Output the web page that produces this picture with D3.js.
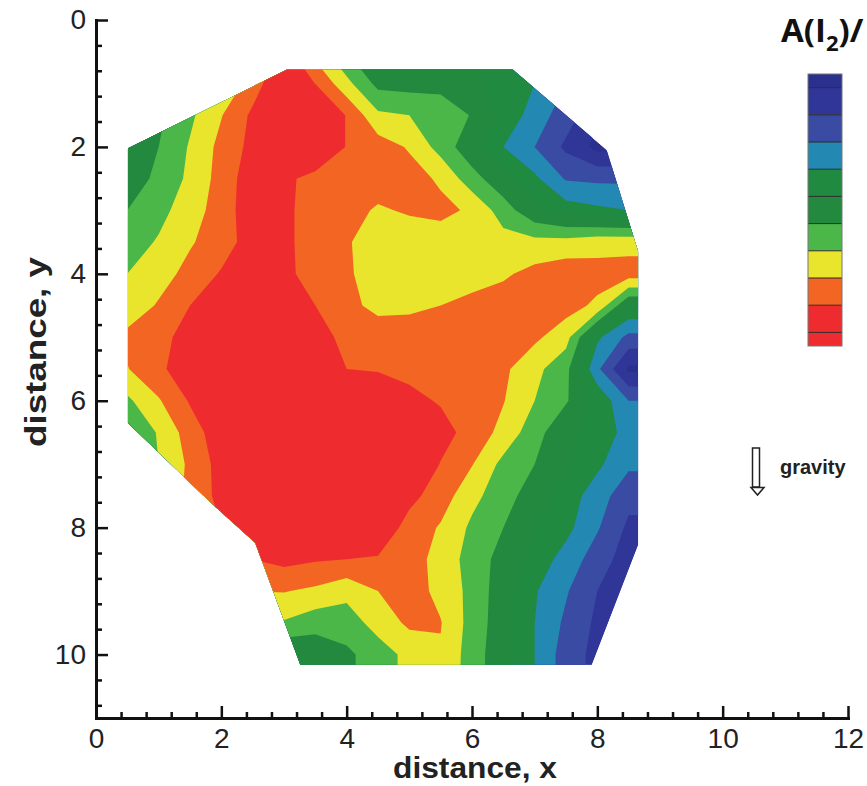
<!DOCTYPE html>
<html><head><meta charset="utf-8">
<script src="https://cdn.jsdelivr.net/npm/d3@7"></script>
<style>body{margin:0;background:#fff;} svg{display:block;}</style>
</head><body><svg id="chart" width="867" height="786"></svg>
<script>
// ---- data ----
const gridX = [0.5,1,1.5,2,2.5,3,3.5,4,4.5,5,5.5,6,6.5,7,7.5,8,8.5,9];
const gridY = [0.5,1,1.5,2,2.5,3,3.5,4,4.5,5,5.5,6,6.5,7,7.5,8,8.5,9,9.5,10,10.5];
// value on level-index scale (thresholds 1..10), one row per gridY
const zGrid = [
 [4.4,5.2,5.8,6.5,7.8,9.5,7.6,6.0,5.4,5.4,5.3,5.0,4.2,3.5,2.8,2.5,2.5,2.5],
 [4.6,5.5,6.2,7.0,8.5,10.0,8.98,7.3,5.7,5.6,5.5,5.3,4.5,4.0,3.0,2.5,2.5,2.5],
 [4.8,5.8,6.8,7.95,9.2,10.5,10.0,8.95,7.2,7.0,6.95,5.9,4.8,3.5,2.5,1.2,1.2,1.2],
 [5.0,6.0,7.1,8.3,9.3,10.5,10.0,8.95,8.5,7.9,6.6,5.3,4.0,3.0,1.8,0.7,0.7,1.0],
 [5.3,6.3,7.2,8.4,9.6,9.2,8.7,8.4,8.4,8.4,7.85,6.4,5.3,4.2,2.9,2.8,2.8,3.0],
 [6.0,6.7,7.5,8.5,9.6,9.2,8.6,8.3,7.9,8.1,8.25,7.85,6.5,5.2,4.5,4.2,4.0,4.0],
 [6.5,7.1,7.9,8.5,9.5,9.2,8.6,8.1,7.5,7.5,7.5,7.5,7.4,7.3,7.35,7.6,7.6,7.6],
 [7.0,7.6,8.3,9.1,9.8,9.3,8.5,8.15,7.5,7.5,7.6,7.7,7.85,8.3,8.6,8.4,8.5,8.5],
 [7.4,8.1,9.0,9.6,10.0,9.8,9.0,8.3,7.7,7.8,8.0,8.2,8.5,8.6,8.4,7.8,5.0,5.0],
 [8.25,8.6,9.5,10.2,10.3,10.0,9.3,8.8,8.6,8.5,8.6,8.7,8.6,8.2,7.4,4.2,2.7,2.7],
 [7.95,8.8,9.6,10.3,10.5,10.5,10.2,9.0,8.9,8.7,8.6,8.5,8.2,7.3,6.3,3.2,0.8,0.6],
 [6.8,7.9,9.1,10.0,10.5,10.6,10.5,10.2,10.0,9.3,8.9,8.1,8.05,7.0,6.1,4.8,3.0,3.0],
 [6.0,7.1,8.5,9.6,10.4,10.6,10.6,10.5,10.3,10.0,9.4,8.6,7.7,6.4,5.2,4.5,3.7,3.7],
 [5.5,7.0,8.2,9.4,10.3,10.6,10.7,10.6,10.4,10.1,8.95,8.05,6.7,6.0,5.2,4.2,3.2,3.2],
 [5.5,7.0,8.3,9.3,10.2,10.6,10.6,10.6,10.4,9.3,8.5,7.3,6.4,5.5,4.5,3.5,2.3,2.3],
 [5.5,7.0,8.0,9.0,9.8,10.3,10.5,10.4,9.8,8.6,7.9,6.8,6.0,5.0,4.3,3.1,1.8,1.8],
 [5.5,6.5,7.5,8.5,9.0,9.3,9.1,9.0,8.9,8.5,7.6,6.6,5.6,4.6,3.6,2.5,1.5,1.5],
 [5.0,6.0,7.0,7.5,8.0,8.05,7.8,7.3,8.0,8.5,7.7,6.7,5.4,4.1,3.1,2.0,1.2,1.2],
 [5.0,5.5,6.0,6.5,6.8,6.9,6.4,6.5,7.4,8.2,8.05,6.6,5.4,4.0,2.8,1.8,1.0,1.0],
 [5.0,5.0,5.0,5.0,5.0,5.0,5.3,5.8,6.5,7.3,7.9,6.5,5.3,4.0,2.5,1.7,1.0,1.0],
 [5.0,5.0,5.0,5.0,5.0,5.0,5.3,5.8,6.5,7.3,7.8,6.5,5.3,4.0,2.5,1.7,1.0,1.0]
];
const levels = [1,2,3,4,5,6,7,8,9,10];
const bandColors = ['#2b2f8e','#2f3697','#3a4ba3','#2388b2','#1f8a40','#22893f','#4bb749','#e9e52d','#f26522','#ee2c2f','#ee2c2f'];
// measured region outline
const boundaryX = [0.51,3.05,6.65,8.15,8.65,8.65,7.91,3.26,2.54,1.79,0.51];
const boundaryY = [2.02,0.78,0.78,2.05,3.65,8.27,10.16,10.16,8.24,7.57,6.35];
const xTicks = [0,2,4,6,8,10,12];
const yTicks = [0,2,4,6,8,10];
const xMinor = d3.range(0,12.001,0.4).filter(v=>Math.abs(v/2-Math.round(v/2))>1e-6);
const yMinor = d3.range(0,11.001,0.4).filter(v=>Math.abs(v/2-Math.round(v/2))>1e-6);

// ---- chart ----
const svg = d3.select('#chart');
const x = d3.scaleLinear().domain([0,12]).range([96,848]);
const y = d3.scaleLinear().domain([0,11]).range([20,718]);

const nx = gridX.length, ny = gridY.length;
const ux = d3.scaleLinear().domain([0.5,nx-0.5]).range([gridX[0],gridX[nx-1]]);
const uy = d3.scaleLinear().domain([0.5,ny-0.5]).range([gridY[0],gridY[ny-1]]);
const proj = d3.geoTransform({point(px,py){ this.stream.point(x(ux(px)), y(uy(py))); }});
const path = d3.geoPath(proj);
const contours = d3.contours().size([nx,ny]).thresholds(levels)(zGrid.flat());

const outline = d3.line()(boundaryX.map((bx,i)=>[x(bx),y(boundaryY[i])])) + 'Z';
svg.append('defs').append('clipPath').attr('id','dom').append('path').attr('d',outline);
const g = svg.append('g').attr('clip-path','url(#dom)');
g.append('path').attr('d',outline).attr('fill',bandColors[0]);
g.selectAll('path.band').data(contours).join('path').attr('class','band')
  .attr('d',path).attr('fill',(d,i)=>bandColors[i+1]);

// axes
const font = "'Liberation Sans', Arial, Helvetica, sans-serif";
svg.append('g').attr('transform',`translate(${x(0)},0)`)
  .call(d3.axisLeft(y).tickValues(yTicks).tickSizeInner(-12).tickSizeOuter(0).tickPadding(10).tickFormat(d3.format('d')));
svg.append('g').attr('transform',`translate(0,${y(11)})`)
  .call(d3.axisBottom(x).tickValues(xTicks).tickSizeInner(-12).tickSizeOuter(0).tickPadding(10).tickFormat(d3.format('d')));
svg.append('g').attr('transform',`translate(${x(0)},0)`)
  .call(d3.axisLeft(y).tickValues(yMinor).tickSizeInner(-6).tickSizeOuter(0).tickFormat(''))
  .call(s=>s.select('.domain').remove());
svg.append('g').attr('transform',`translate(0,${y(11)})`)
  .call(d3.axisBottom(x).tickValues(xMinor).tickSizeInner(-6).tickSizeOuter(0).tickFormat(''))
  .call(s=>s.select('.domain').remove());
svg.selectAll('.domain').attr('stroke','#111').attr('stroke-width',3).attr('stroke-linecap','square');
svg.selectAll('.tick line').attr('stroke','#111').attr('stroke-width',2.5);
svg.selectAll('.tick text').attr('font-family',font).attr('font-size',28).attr('fill','#222');

svg.append('text').attr('x',475).attr('y',778).attr('text-anchor','middle')
  .attr('font-family',font).attr('font-weight','bold').attr('font-size',30)
  .attr('textLength',164).attr('lengthAdjust','spacingAndGlyphs').attr('fill','#222').text('distance, x');
svg.append('text').attr('transform','translate(46,352) rotate(-90)').attr('text-anchor','middle')
  .attr('font-family',font).attr('font-weight','bold').attr('font-size',30)
  .attr('textLength',190).attr('lengthAdjust','spacingAndGlyphs').attr('fill','#222').text('distance, y');

// colorbar
const cb = d3.scaleLinear().domain([0.5,10.5]).range([74,346]);
const cbg = svg.append('g');
cbg.selectAll('rect').data(bandColors).join('rect')
  .attr('x',808).attr('width',34)
  .attr('y',(d,k)=>cb(Math.max(k,0.5)))
  .attr('height',(d,k)=>cb(Math.min(k+1,10.5))-cb(Math.max(k,0.5)))
  .attr('fill',d=>d);
cbg.selectAll('line').data(levels).join('line')
  .attr('x1',808).attr('x2',842).attr('y1',d=>cb(d)).attr('y2',d=>cb(d))
  .attr('stroke','#2a2a2a').attr('stroke-width',1);
cbg.append('rect').attr('x',808).attr('y',cb(0.5)).attr('width',34).attr('height',cb(10.5)-cb(0.5))
  .attr('fill','none').attr('stroke','#777').attr('stroke-width',1);

const title = svg.append('text').attr('x',781).attr('y',42)
  .attr('font-family',"'Open Sans', 'Liberation Sans', sans-serif").attr('font-weight','bold').attr('font-size',33).attr('fill','#111');
title.append('tspan').text('A(I');
title.append('tspan').attr('font-size',22).attr('dy',9).text('2');
title.append('tspan').attr('dy',-9).text(')/');

// gravity arrow
svg.append('path').attr('d','M752.5,448 H759.5 V487 H752.5 Z').attr('fill','#fff').attr('stroke','#222').attr('stroke-width',1.5);
svg.append('path').attr('d','M751,487.5 L764,487.5 L757.5,495 Z').attr('fill','#fff').attr('stroke','#222').attr('stroke-width',1.5);
svg.append('text').attr('x',780).attr('y',474).attr('font-family',font).attr('font-weight','bold')
  .attr('font-size',20).attr('fill','#222').text('gravity');
</script></body></html>
